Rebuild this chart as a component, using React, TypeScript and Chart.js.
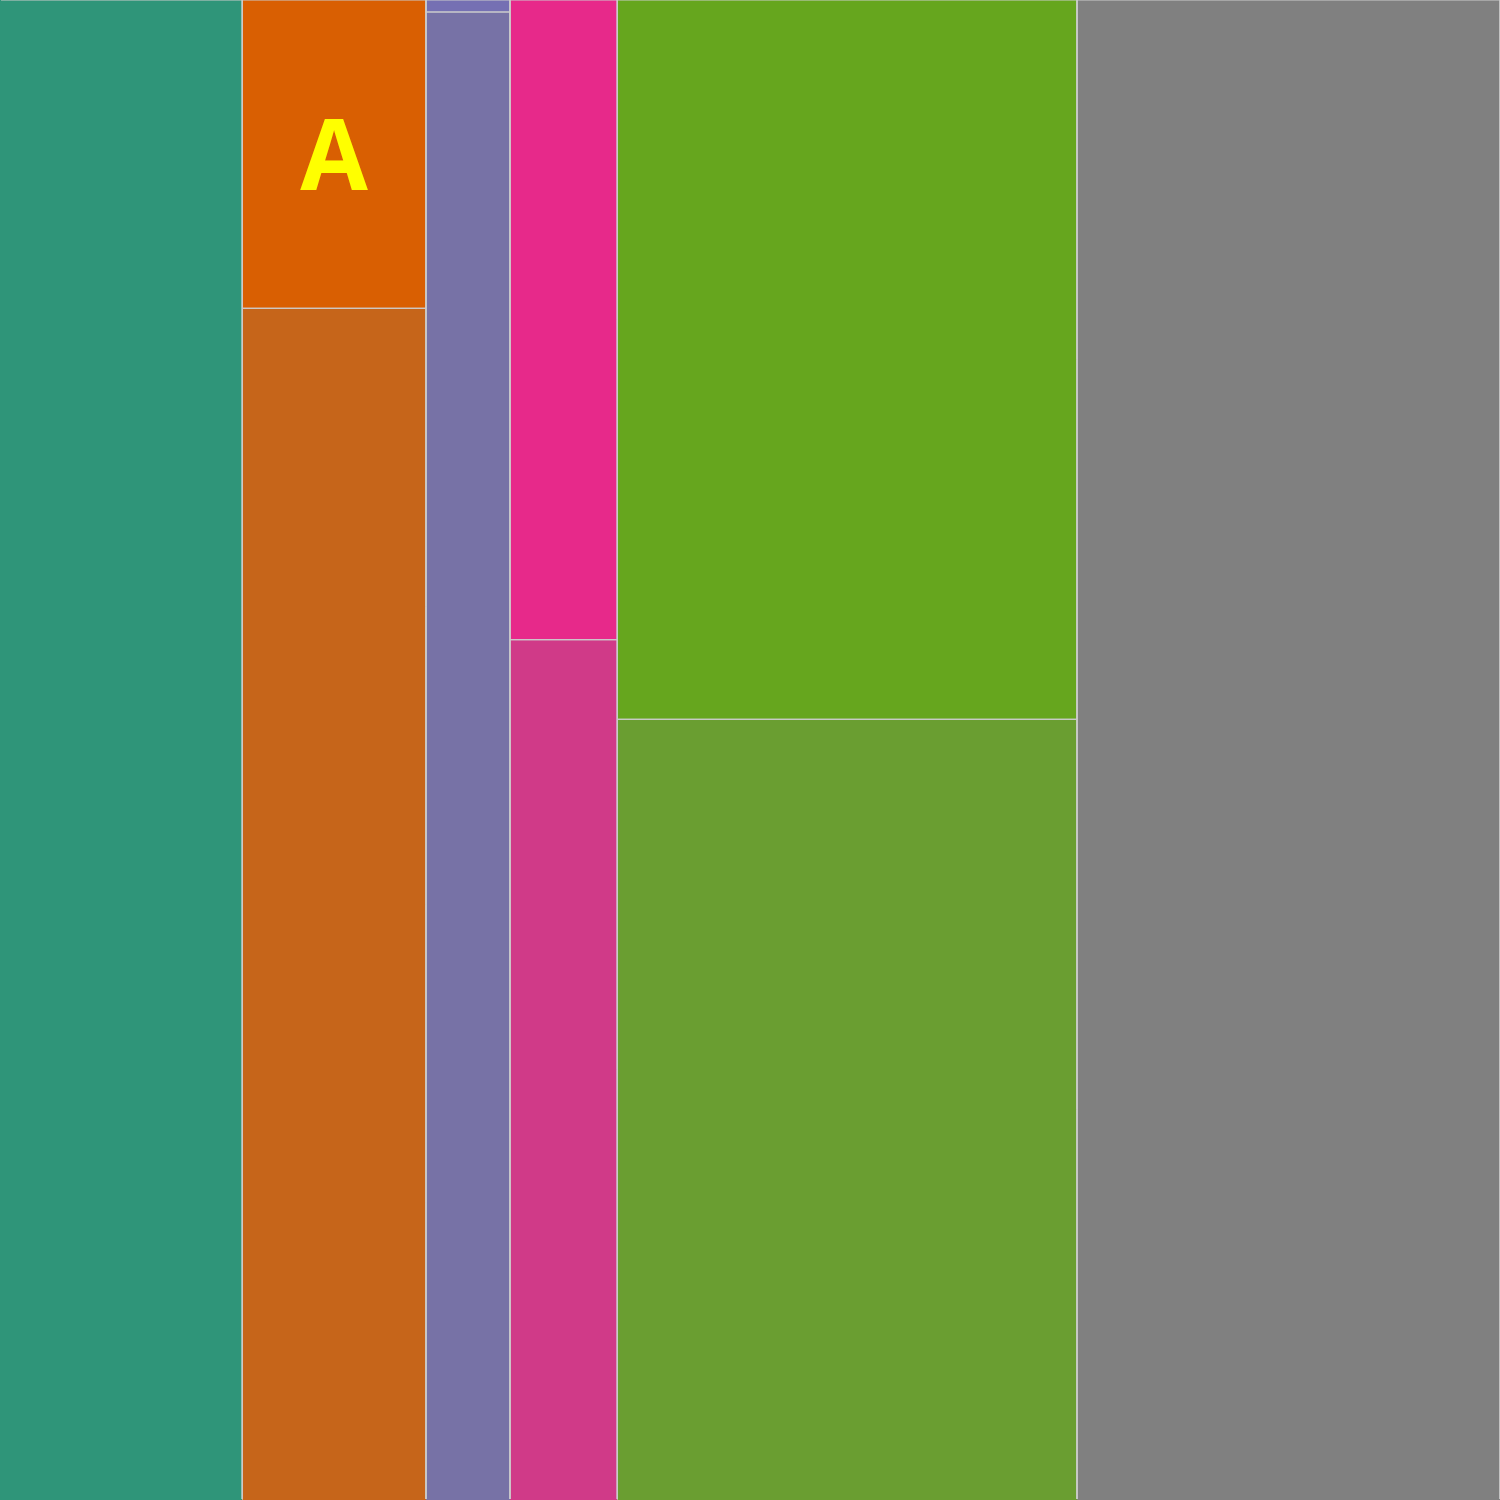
import React, { useEffect, useRef } from "react";
import { Chart, registerables } from "chart.js";

Chart.register(...registerables);

// Column shares of the full width (percent), left to right
const columnNames = ["G1", "G2", "G3", "G4", "G5", "G6"];
const columnShares = [16.15, 12.25, 5.6, 7.15, 30.65, 28.2];
// Share of each column's height taken by its top segment (percent); 0 = single segment
const topShares = [0, 20.55, 0.8, 42.65, 47.95, 0];
// Colours: top segment, bottom segment
const topColors = ["#2f9579", "#d95f02", "#7570b3", "#e7298a", "#66a61e", "#808080"];
const bottomColors = ["#2f9579", "#c6651a", "#7772a6", "#d03a88", "#6a9e31", "#808080"];
// Text labels for top segments
const topLabels = ["", "A", "", "", "", ""];

const borderColor = "#cccccc";

export default function App() {
  const ref = useRef<HTMLCanvasElement | null>(null);

  useEffect(() => {
    document.body.style.margin = "0";
    const canvas = ref.current;
    if (!canvas) return;

    type Rect = { x0: number; x1: number; y0: number; y1: number; color: string; label: string };
    const rects: Rect[] = [];
    let x = 0;
    columnShares.forEach((w, i) => {
      const x0 = x;
      const x1 = x + w;
      x = x1;
      if (topShares[i] > 0) {
        rects.push({ x0, x1, y0: 0, y1: topShares[i], color: topColors[i], label: topLabels[i] });
        rects.push({ x0, x1, y0: topShares[i], y1: 100, color: bottomColors[i], label: "" });
      } else {
        rects.push({ x0, x1, y0: 0, y1: 100, color: bottomColors[i], label: topLabels[i] });
      }
    });

    const fillSets = rects.map((r) => ({
      type: "line" as const,
      order: 2,
      data: [
        { x: r.x0, y: r.y1 },
        { x: r.x1, y: r.y1 },
      ],
      fill: { value: r.y0 },
      backgroundColor: r.color,
      borderWidth: 0,
      borderColor: r.color,
      pointRadius: 0,
      tension: 0,
    }));
    const outlineSets = rects.map((r) => ({
      type: "line" as const,
      order: 1,
      clip: { left: -1, top: 1, right: 1, bottom: -1 },
      data: [
        { x: r.x0, y: r.y0 },
        { x: r.x1, y: r.y0 },
        { x: r.x1, y: r.y1 },
        { x: r.x0, y: r.y1 },
        { x: r.x0, y: r.y0 },
      ],
      fill: false,
      borderColor: borderColor,
      borderWidth: 1,
      pointRadius: 0,
      tension: 0,
    }));

    const labelPlugin = {
      id: "rectLabels",
      afterDatasetsDraw(chart: any) {
        const { ctx, scales } = chart;
        ctx.save();
        ctx.fillStyle = "#ffff00";
        ctx.font = 'bold 98px "Open Sans"';
        ctx.textAlign = "center";
        ctx.textBaseline = "alphabetic";
        rects.forEach((r) => {
          if (!r.label) return;
          const cx = scales.x.getPixelForValue((r.x0 + r.x1) / 2);
          const cy = scales.y.getPixelForValue((r.y0 + r.y1) / 2);
          const m = ctx.measureText(r.label);
          const asc = m.actualBoundingBoxAscent;
          const desc = m.actualBoundingBoxDescent;
          ctx.fillText(r.label, cx, cy + (asc - desc) / 2);
        });
        ctx.restore();
      },
    };

    const chart = new Chart(canvas, {
      type: "scatter",
      data: { datasets: [...fillSets, ...outlineSets] as any },
      options: {
        animation: false,
        responsive: false,
        devicePixelRatio: 1,
        layout: { padding: 0 },
        plugins: { legend: { display: false }, tooltip: { enabled: false } },
        elements: { line: { borderCapStyle: "butt" } },
        datasets: { line: { showLine: true } } as any,
        scales: {
          x: { type: "linear", min: 0, max: 100, display: false },
          y: { type: "linear", min: 0, max: 100, reverse: true, display: false },
        },
      },
      plugins: [labelPlugin],
    });
    return () => chart.destroy();
  }, []);

  return (
    <div style={{ width: 1500, height: 1500 }}>
      <canvas ref={ref} width={1500} height={1500} aria-label={columnNames.join(", ")} />
    </div>
  );
}
